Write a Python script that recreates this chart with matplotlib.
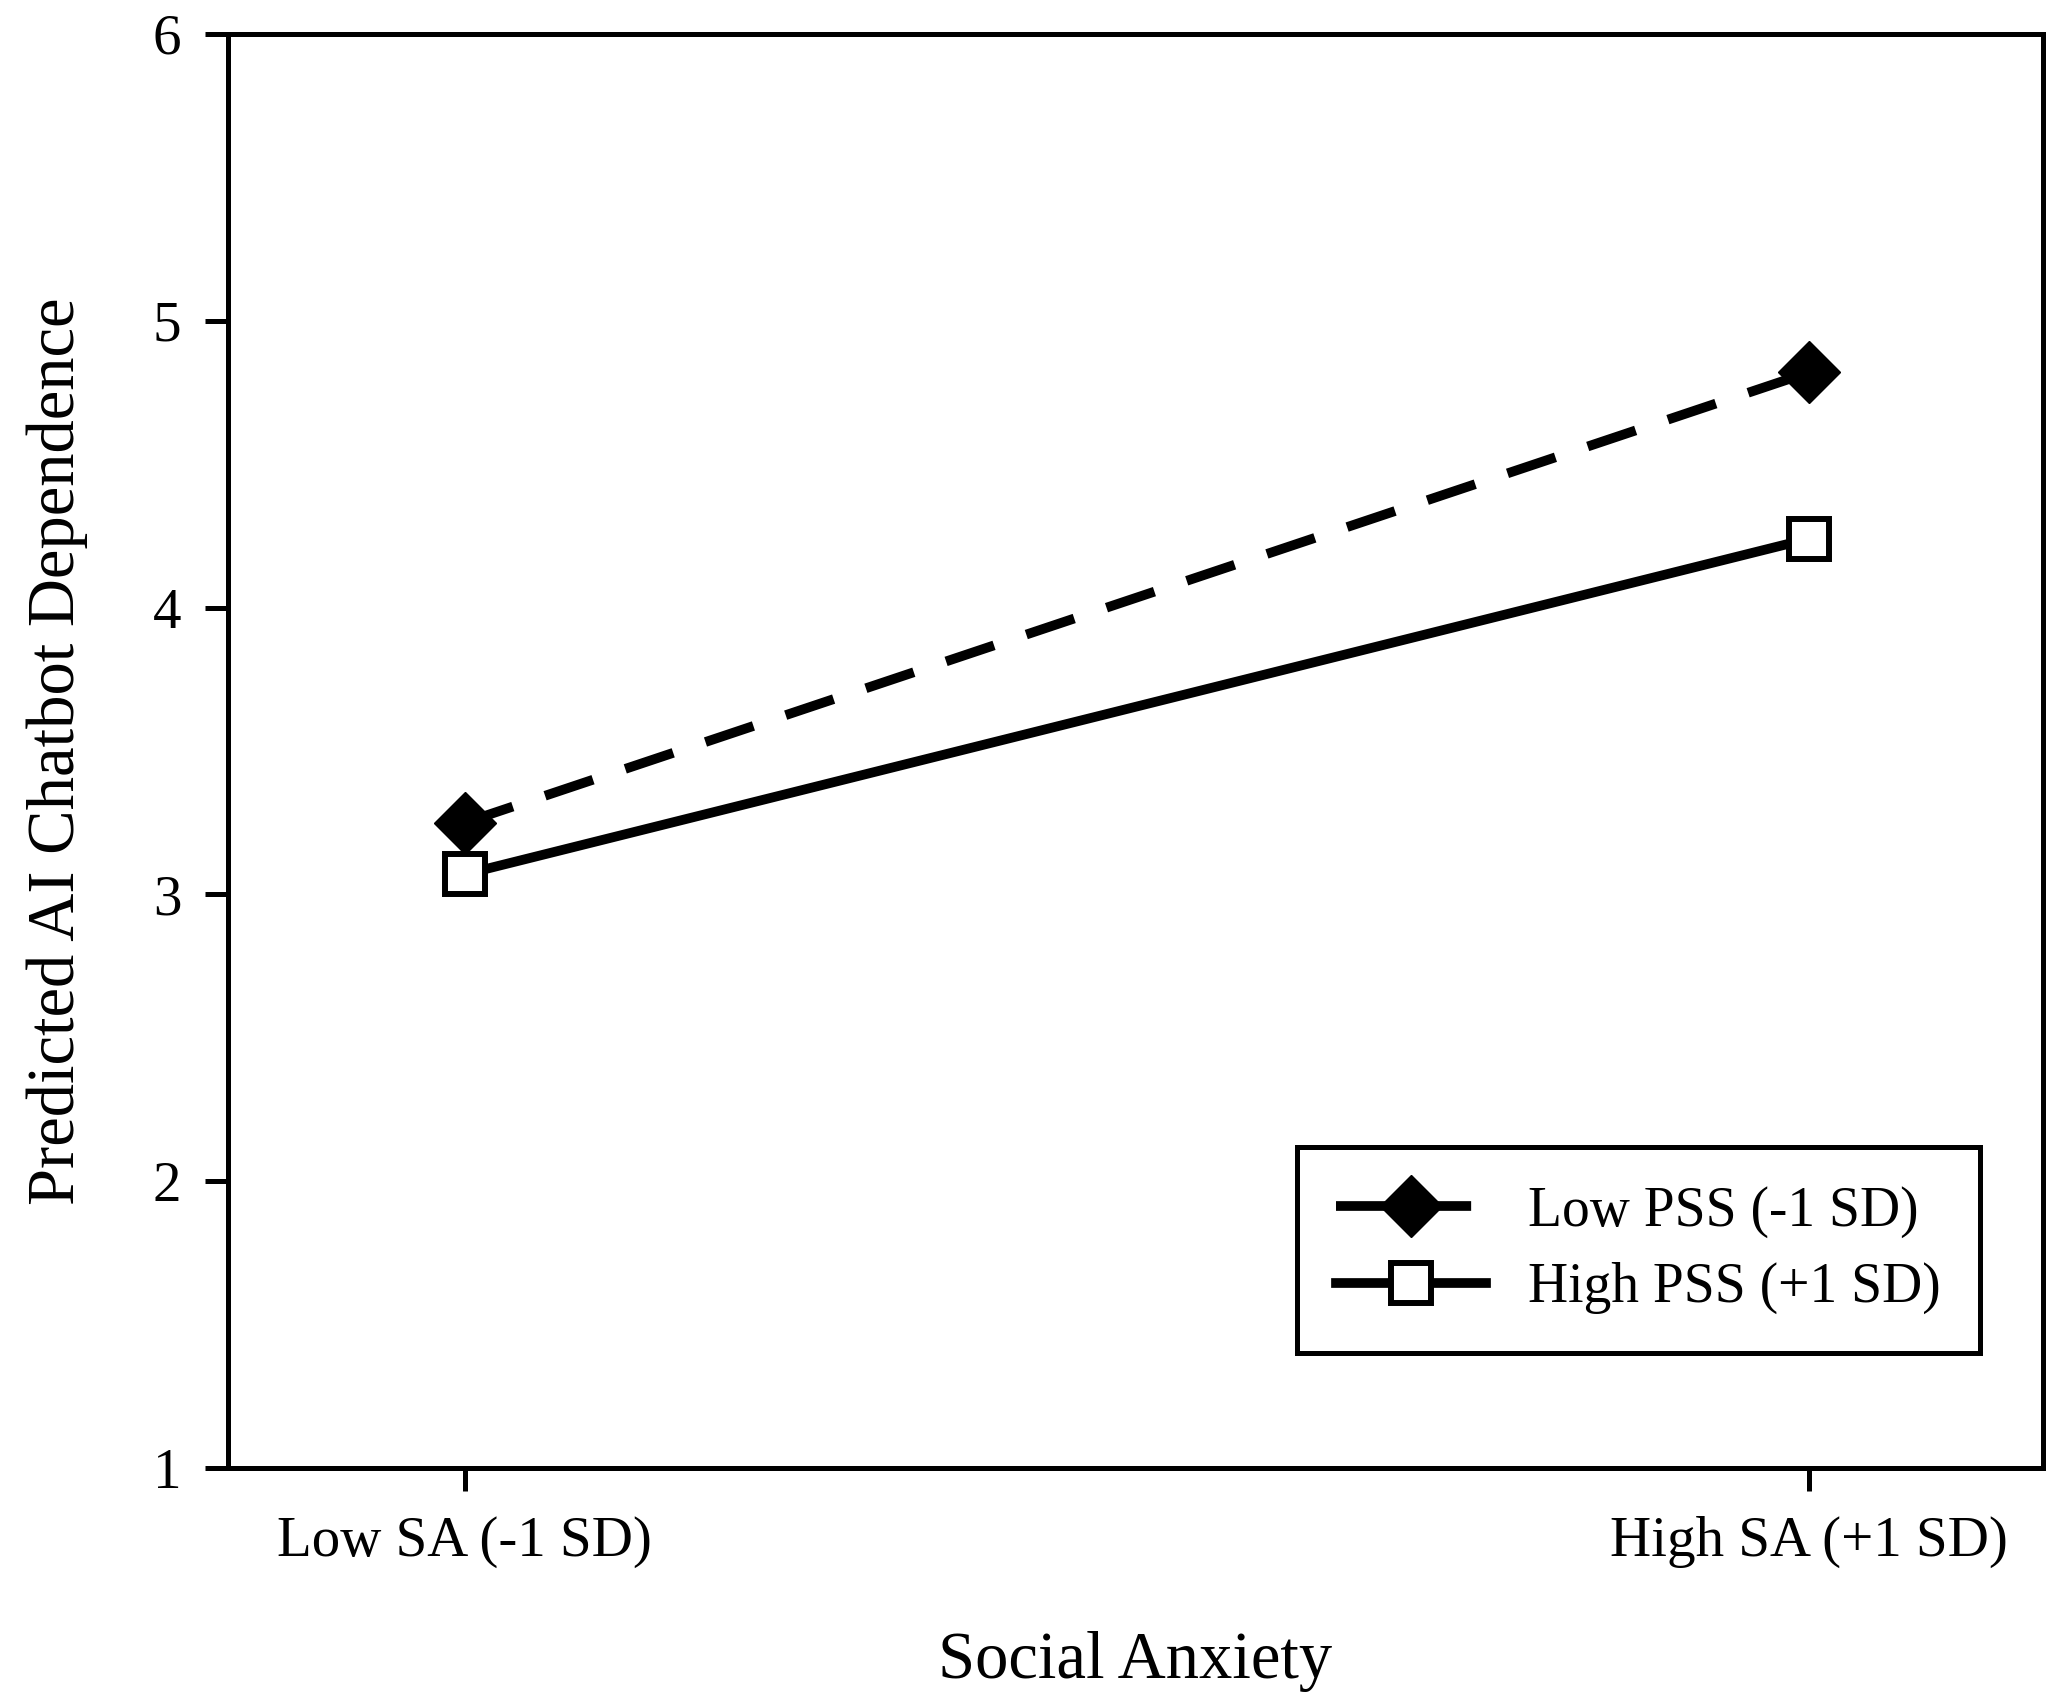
import matplotlib

matplotlib.use("Agg", force=True)
import matplotlib.pyplot as plt

# simple slopes: predicted AI chatbot dependence at low/high social anxiety
sa_levels = ["Low SA (-1 SD)", "High SA (+1 SD)"]
low_pss = [3.25, 4.82]
high_pss = [3.07, 4.24]
series_labels = ["Low PSS (-1 SD)", "High PSS (+1 SD)"]
y_ticks = [1, 2, 3, 4, 5, 6]

plt.rcParams["font.family"] = ["Liberation Serif", "DejaVu Serif"]

DPI = 100
fig = plt.figure(figsize=(20.7, 16.97), dpi=DPI)
ax = fig.add_axes([0.1101, 0.1350, 0.8768, 0.8450])

x_pos = list(range(len(sa_levels)))
lw = 7
ax.plot(x_pos, low_pss, color="black", linewidth=lw, linestyle=(0, (5.2, 3.5)),
        marker="D", markersize=32, markerfacecolor="black", markeredgecolor="black",
        markeredgewidth=1, label=series_labels[0], zorder=3)
ax.plot(x_pos, high_pss, color="black", linewidth=lw, linestyle="-",
        marker="s", markersize=29, markerfacecolor="white", markeredgecolor="black",
        markeredgewidth=4.3, label=series_labels[1], zorder=4)

ax.set_xlim(-0.1763, 1.174)
ax.set_ylim(1, 6)
ax.set_xticks(x_pos)
ax.set_xticklabels(sa_levels)
ax.set_yticks(y_ticks)

for side in ax.spines.values():
    side.set_linewidth(3.6)
ax.tick_params(axis="both", direction="out", length=16.5, width=3.6, labelsize=41)
ax.tick_params(axis="x", pad=18)
ax.tick_params(axis="y", pad=17)

ax.set_xlabel("Social Anxiety", fontsize=48)
ax.set_ylabel("Predicted AI Chatbot Dependence", fontsize=48)
ax.xaxis.set_label_coords(0.5, -0.114)
ax.yaxis.set_label_coords(-0.077, 0.5)

leg = ax.legend(loc="upper left", bbox_to_anchor=(0.6266, 0.3241),
                bbox_transform=fig.transFigure, borderaxespad=0,
                fontsize=40, frameon=True, fancybox=False, framealpha=1,
                edgecolor="black", handlelength=2.7, handletextpad=0.76,
                borderpad=0.7, labelspacing=0.43)
leg.get_frame().set_linewidth(3.6)

fig.savefig("out.png", dpi=DPI)
plt.close(fig)
